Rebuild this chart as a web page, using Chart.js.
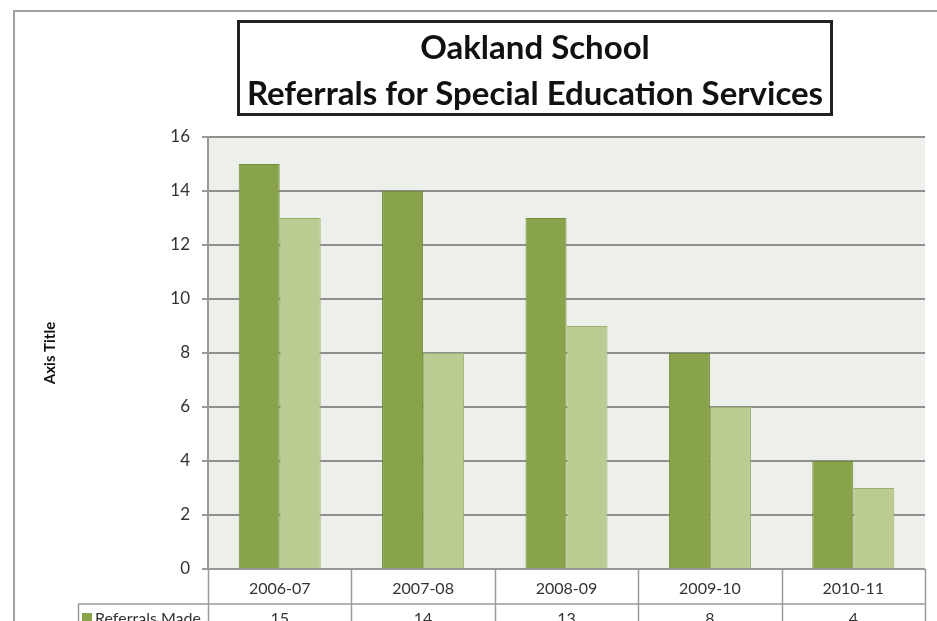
<!DOCTYPE html>
<html>
<head>
<meta charset="utf-8">
<script src="https://cdn.jsdelivr.net/npm/chart.js@4"></script>
<style>
  html,body{margin:0;padding:0;background:#fff;}
  #wrap{position:relative;width:937px;height:621px;overflow:hidden;}
  #chart{position:absolute;left:0;top:0;}
  #title{position:absolute;left:237px;top:20px;width:590px;height:90px;border:3px solid #222;
    font-family:Lato,sans-serif;font-weight:bold;font-size:33px;line-height:46px;text-align:center;color:#111;}
</style>
</head>
<body>
<div id="wrap">
  <canvas id="chart" width="937" height="621"></canvas>
  <div id="title">Oakland School<br>Referrals for Special Education Services</div>
</div>
<script>
const years=["2006-07","2007-08","2008-09","2009-10","2010-11"];
const referralsMade=[15,14,13,8,4];
const secondSeries=[13,8,9,6,3];
const yTicks=[0,2,4,6,8,10,12,14,16];

const darkGreen="#89a34a";
const lightGreen="#bbcc92";
const lineGray="#9a9a9a";

// plot area fill + data table lines + outer frame
const tablePlugin={
  id:"tablePlugin",
  beforeDraw(chart){
    const {ctx,chartArea}=chart;
    ctx.save();
    ctx.fillStyle="#edf0ea";
    ctx.fillRect(chartArea.left,chartArea.top,chartArea.right-chartArea.left,chartArea.bottom-chartArea.top);
    // outer frame
    ctx.strokeStyle="#a0a0a0";
    ctx.lineWidth=2;
    ctx.beginPath();
    ctx.moveTo(14,621);ctx.lineTo(14,11);ctx.lineTo(937,11);
    ctx.stroke();
    ctx.restore();
  },
  afterDraw(chart){
    const {ctx,chartArea}=chart;
    const x=chart.scales.x;
    const half=(x.getPixelForValue(1)-x.getPixelForValue(0))/2;
    const row1=chartArea.bottom, row2=604, bottom=621;
    ctx.save();
    ctx.strokeStyle=lineGray;
    ctx.lineWidth=1.5;
    ctx.beginPath();
    // vertical separators
    for(let i=0;i<=years.length;i++){
      const px=Math.round(x.getPixelForValue(i)-half)+0.5;
      ctx.moveTo(px,row1);ctx.lineTo(px,bottom);
    }
    ctx.moveTo(chartArea.left,row1);ctx.lineTo(chartArea.right,row1);
    ctx.moveTo(78,row2);ctx.lineTo(chartArea.right,row2);
    ctx.moveTo(78.5,row2);ctx.lineTo(78.5,bottom);
    ctx.stroke();
    // second row: legend key + values
    ctx.fillStyle=darkGreen;
    ctx.fillRect(82,613,10,10);
    ctx.fillStyle="#333";
    ctx.font="16px Lato, sans-serif";
    ctx.textBaseline="top";
    ctx.textAlign="left";
    ctx.fillText("Referrals Made",95,611);
    ctx.textAlign="center";
    referralsMade.forEach((v,i)=>{
      ctx.fillText(String(v),x.getPixelForValue(i),611);
    });
    ctx.restore();
  }
};

new Chart(document.getElementById("chart"),{
  type:"bar",
  data:{
    labels:years,
    datasets:[
      {label:"Referrals Made",data:referralsMade,backgroundColor:darkGreen,borderColor:"#718c3b",borderWidth:1},
      {label:"Series 2",data:secondSeries,backgroundColor:lightGreen,borderColor:"#9bb06c",borderWidth:1}
    ]
  },
  options:{
    responsive:false,
    animation:false,
    layout:{padding:{top:137,right:12,left:0,bottom:0}},
    datasets:{bar:{categoryPercentage:0.572,barPercentage:1.0}},
    plugins:{legend:{display:false},tooltip:{enabled:false},title:{display:false}},
    scales:{
      x:{
        grid:{display:false},
        border:{display:false},
        ticks:{color:"#333",font:{family:"Lato",size:16},padding:2,maxRotation:0},
        afterFit(scale){scale.height=52;}
      },
      y:{
        min:0,max:16,
        afterBuildTicks(scale){scale.ticks=yTicks.map(v=>({value:v}));},
        grid:{color:"#8f8f8f",lineWidth:2,tickLength:6,tickColor:lineGray},
        border:{display:true,color:lineGray,width:2},
        ticks:{color:"#333",font:{family:"Lato",size:17},padding:12},
        title:{display:true,text:"Axis Title",color:"#111",font:{family:"Lato",size:15,weight:"bold"},padding:{top:41}},
        afterFit(scale){scale.width=208;}
      }
    }
  },
  plugins:[tablePlugin]
});
</script>
</body>
</html>
